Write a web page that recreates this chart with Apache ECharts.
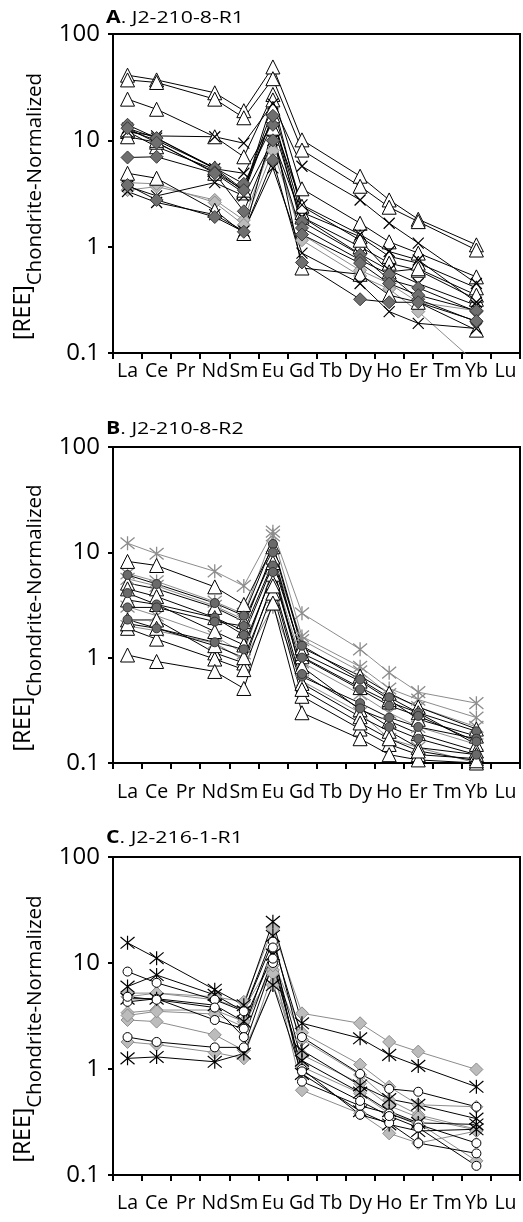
<!DOCTYPE html>
<html><head><meta charset="utf-8">
<script src="https://cdn.jsdelivr.net/npm/echarts@6/dist/echarts.min.js"></script>
<style>html,body{margin:0;padding:0;background:#fff}#c{width:523px;height:1222px}</style>
</head><body><div id="c"></div>
<script>
// ---- categories (x axis) ----
const categories = ['La','Ce','Pr','Nd','Sm','Eu','Gd','Tb','Dy','Ho','Er','Tm','Yb','Lu'];
// elements that carry data, in order of the value arrays below
const measured = ['La','Ce','Nd','Sm','Eu','Gd','Dy','Ho','Er','Yb'];
const panelLetters = ['A','B','C'];
const panelSamples = ['J2-210-8-R1','J2-210-8-R2','J2-216-1-R1'];

// ---- Panel A: J2-210-8-R1 ----
const A_L1 = [3.4, 3.67, 2.75, 1.78, 9.9, 1.15, 0.53, 0.40, 0.245, 0.08];
const A_L2 = [4.0, 3.9, 2.6, 1.6, 8.0, 1.3, 0.60, 0.45, 0.30, 0.25];
const A_T1 = [41, 37, 28, 19, 49, 10.1, 4.6, 2.75, 1.81, 1.04];
const A_T2 = [37, 35, 24.4, 16.3, 38, 8.1, 3.7, 2.35, 1.72, 0.93];
const A_T3 = [24.4, 19.6, 10.8, 7.0, 27, 3.5, 1.66, 1.11, 0.87, 0.52];
const A_T4 = [12.1, 8.7, 5.3, 3.3, 24, 2.1, 1.24, 0.81, 0.70, 0.41];
const A_T5 = [10.8, 9.6, 4.9, 3.2, 17, 1.9, 1.0, 0.70, 0.60, 0.32];
const A_T6 = [4.9, 4.4, 2.2, 1.33, 13, 0.63, 0.55, 0.35, 0.30, 0.164];
const A_T7 = [12.5, 10.0, 5.5, 3.4, 20, 2.4, 1.15, 0.58, 0.62, 0.35];
const A_X1 = [12, 11, 10.8, 9.4, 22, 5.7, 2.75, 1.66, 1.08, 0.45];
const A_X2 = [13, 10.5, 5.4, 4.9, 15, 2.47, 1.3, 0.90, 0.75, 0.30];
const A_X3 = [3.3, 2.6, 2.0, 1.4, 5.5, 0.87, 0.45, 0.245, 0.19, 0.17];
const A_X4 = [3.7, 3.0, 4.0, 3.0, 10, 1.9, 0.85, 0.60, 0.45, 0.28];
const A_D1 = [14, 10.5, 5.5, 3.9, 14, 1.72, 0.84, 0.49, 0.41, 0.245];
const A_D2 = [13, 9.5, 5.0, 3.4, 17, 1.5, 0.75, 0.55, 0.32, 0.197];
const A_D3 = [6.9, 7.0, 4.9, 2.15, 10, 1.3, 0.70, 0.45, 0.35, 0.25];
const A_D4 = [3.8, 2.75, 1.9, 1.38, 6.5, 0.71, 0.32, 0.30, 0.30, 0.20];

// ---- Panel B: J2-210-8-R2 ----
const B_S1 = [12.2, 9.7, 6.6, 4.8, 15.7, 2.64, 1.2, 0.72, 0.47, 0.37];
const B_S2 = [6.3, 5.3, 3.4, 2.6, 14.5, 1.59, 0.82, 0.51, 0.40, 0.27];
const B_S3 = [5.6, 4.8, 3.1, 2.3, 9.0, 1.47, 0.74, 0.45, 0.34, 0.22];
const B_S4 = [3.05, 2.5, 1.6, 1.1, 7.0, 0.90, 0.45, 0.30, 0.22, 0.15];
const B_S5 = [2.0, 1.8, 1.38, 0.95, 3.05, 0.60, 0.30, 0.17, 0.14, 0.10];
const B_T1 = [8.2, 7.5, 4.7, 3.2, 11.3, 1.24, 0.67, 0.46, 0.34, 0.21];
const B_T2 = [5.1, 4.5, 3.0, 2.2, 9.0, 1.02, 0.52, 0.38, 0.30, 0.15];
const B_T3 = [3.53, 3.2, 1.77, 1.32, 6.2, 0.82, 0.32, 0.25, 0.19, 0.13];
const B_T4 = [2.28, 2.28, 1.11, 0.89, 5.2, 0.57, 0.275, 0.20, 0.14, 0.12];
const B_T5 = [1.9, 1.5, 0.97, 0.77, 4.1, 0.43, 0.21, 0.15, 0.12, 0.11];
const B_T6 = [1.06, 0.92, 0.74, 0.51, 3.3, 0.30, 0.17, 0.12, 0.107, 0.10];
const B_T7 = [4.5, 3.8, 2.4, 1.8, 8.0, 1.1, 0.60, 0.40, 0.26, 0.18];
const B_T8 = [2.1, 1.9, 1.3, 1.0, 4.8, 0.50, 0.24, 0.17, 0.13, 0.105];
const B_C1 = [6.1, 5.0, 3.3, 2.5, 12.0, 1.3, 0.62, 0.42, 0.30, 0.20];
const B_C2 = [4.1, 3.2, 2.4, 1.64, 7.5, 0.66, 0.37, 0.27, 0.22, 0.17];
const B_C3 = [3.0, 3.0, 2.2, 2.0, 10.0, 1.0, 0.50, 0.35, 0.28, 0.16];
const B_C4 = [2.3, 1.9, 1.4, 1.2, 6.5, 0.70, 0.33, 0.22, 0.17, 0.12];

// ---- Panel C: J2-216-1-R1 ----
const C_D1 = [5.2, 5.2, 4.8, 4.3, 21, 3.35, 2.7, 1.8, 1.46, 0.99];
const C_D2 = [4.8, 5.2, 4.5, 3.7, 10.7, 2.2, 1.1, 0.68, 0.46, 0.44];
const C_D3 = [3.4, 3.6, 3.6, 2.8, 8.6, 1.9, 0.88, 0.51, 0.37, 0.27];
const C_D4 = [2.9, 2.8, 2.1, 1.5, 6.2, 1.36, 0.73, 0.45, 0.35, 0.265];
const C_D5 = [1.8, 1.7, 1.43, 1.26, 8.0, 1.05, 0.59, 0.38, 0.31, 0.136];
const C_D6 = [3.2, 3.5, 3.3, 2.5, 9.5, 0.63, 0.38, 0.247, 0.20, 0.26];
const C_S1 = [15.5, 11.1, 5.6, 4.0, 24.5, 2.7, 1.95, 1.36, 1.07, 0.68];
const C_S2 = [6.0, 7.7, 5.0, 3.5, 18, 1.5, 0.70, 0.52, 0.46, 0.34];
const C_S3 = [1.26, 1.3, 1.17, 1.4, 6.2, 0.90, 0.40, 0.30, 0.26, 0.27];
const C_S4 = [4.6, 4.6, 4.0, 2.8, 12, 1.2, 0.60, 0.40, 0.31, 0.30];
const C_C1 = [8.3, 6.5, 4.5, 3.5, 15.9, 2.0, 0.90, 0.65, 0.61, 0.44];
const C_C2 = [4.3, 4.6, 2.9, 2.4, 14, 0.76, 0.45, 0.38, 0.30, 0.20];
const C_C3 = [2.0, 1.8, 1.6, 1.6, 10, 1.0, 0.37, 0.31, 0.20, 0.16];
const C_C4 = [4.8, 4.5, 3.8, 2.0, 11, 0.95, 0.50, 0.36, 0.28, 0.122];

// ---- styles ----
const XPATH = 'path://M0,0L10,10M10,0L0,10';
const ASTER = 'path://M0,1L10,11M10,1L0,11M5,0L5,12';
const styles = {
  tri:  {symbol:'triangle', size:14, fill:'#ffffff', stroke:'#000000', bw:1, line:'#000000'},
  x:    {symbol:XPATH, size:11, fill:'transparent', stroke:'#000000', bw:1.2, line:'#000000'},
  dd:   {symbol:'diamond', size:13, fill:'#6f6f6f', stroke:'#3a3a3a', bw:1, line:'#000000'},
  ld:   {symbol:'diamond', size:13, fill:'#bcbcbc', stroke:'#8c8c8c', bw:1, line:'#8c8c8c'},
  gast: {symbol:ASTER, size:14, fill:'transparent', stroke:'#8c8c8c', bw:1.3, line:'#8c8c8c'},
  bast: {symbol:ASTER, size:14, fill:'transparent', stroke:'#000000', bw:1.2, line:'#000000'},
  dc:   {symbol:'circle', size:9, fill:'#6a6a6a', stroke:'#333333', bw:1, line:'#000000'},
  wc:   {symbol:'circle', size:9, fill:'#ffffff', stroke:'#000000', bw:1, line:'#000000'}
};

const panels = [
  [['ld',A_L1],['ld',A_L2],['tri',A_T1],['tri',A_T2],['tri',A_T3],['tri',A_T4],['tri',A_T5],['tri',A_T6],['tri',A_T7],
   ['x',A_X1],['x',A_X2],['x',A_X3],['x',A_X4],['dd',A_D1],['dd',A_D2],['dd',A_D3],['dd',A_D4]],
  [['gast',B_S1],['gast',B_S2],['gast',B_S3],['gast',B_S4],['gast',B_S5],
   ['tri',B_T1],['tri',B_T2],['tri',B_T3],['tri',B_T4],['tri',B_T5],['tri',B_T6],['tri',B_T7],['tri',B_T8],
   ['dc',B_C1],['dc',B_C2],['dc',B_C3],['dc',B_C4]],
  [['ld',C_D1],['ld',C_D2],['ld',C_D3],['ld',C_D4],['ld',C_D5],['ld',C_D6],
   ['bast',C_S1],['bast',C_S2],['bast',C_S3],['bast',C_S4],
   ['wc',C_C1],['wc',C_C2],['wc',C_C3],['wc',C_C4]]
];

// layout
const gridTops = [34, 447, 857];
const gridHeights = [319, 316, 318];
const labelMargins = [8, 19, 18];
const titleCenters = [18.5, 429, 838.5];
const FONT = 'Open Sans';

const grids = [], xAxes = [], yAxes = [], series = [], graphics = [];
panels.forEach((list, p) => {
  grids.push({left:113, width:407, top:gridTops[p], height:gridHeights[p], show:true,
    borderColor:'#000', borderWidth:2, backgroundColor:'transparent'});
  xAxes.push({gridIndex:p, type:'category', data:categories, boundaryGap:true,
    axisLine:{lineStyle:{color:'#000', width:2}},
    axisTick:{show:true, interval:0, length:6, lineStyle:{color:'#000', width:2}},
    axisLabel:{interval:0, color:'#000', fontSize:19.5, fontFamily:FONT, margin:labelMargins[p]},
    splitLine:{show:false}});
  yAxes.push({gridIndex:p, type:'log', logBase:10, min:0.1, max:100, splitNumber:3,
    axisLine:{show:true, lineStyle:{color:'#000', width:2}},
    axisTick:{show:true, length:5, lineStyle:{color:'#000', width:2}},
    minorTick:{show:false}, splitLine:{show:false},
    axisLabel:{color:'#000', fontSize:24, fontFamily:FONT, margin:13}});
  list.forEach(([k, vals]) => {
    const s = styles[k];
    series.push({type:'line', xAxisIndex:p, yAxisIndex:p,
      data: measured.map((c, i) => [c, vals[i]]),
      symbol:s.symbol, symbolSize:s.size, showSymbol:true, connectNulls:true, clip:true,
      lineStyle:{color:s.line, width:1},
      itemStyle:{color:s.fill, borderColor:s.stroke, borderWidth:s.bw},
      emphasis:{disabled:true}, silent:true, animation:false});
  });
  // panel title (letter bold), slightly widened like the original
  graphics.push({type:'text', x:106, y:titleCenters[p], scaleX:1.25, scaleY:1,
    style:{text:'{b|' + panelLetters[p] + '}. ' + panelSamples[p], textAlign:'left', textVerticalAlign:'middle',
      fontSize:17, fontFamily:FONT, fill:'#000',
      rich:{b:{fontSize:17, fontWeight:'bold', fontFamily:FONT, fill:'#000'}}}});
  // y axis name with subscript
  graphics.push({type:'text', x:35, y:gridTops[p] + gridHeights[p] / 2 + 13, rotation:Math.PI / 2,
    style:{text:'{r|[REE]}{s|Chondrite-Normalized}', textAlign:'center', textVerticalAlign:'middle',
      rich:{r:{fontSize:23, lineHeight:23, verticalAlign:'top', fontFamily:FONT, fill:'#000'},
            s:{fontSize:20.5, lineHeight:46, verticalAlign:'middle', fontFamily:FONT, fill:'#000'}}}});
});

const chart = echarts.init(document.getElementById('c'), null, {renderer:'canvas'});
chart.setOption({animation:false, backgroundColor:'#fff', grid:grids,
  xAxis:xAxes, yAxis:yAxes, series:series, graphic:graphics});
</script></body></html>
